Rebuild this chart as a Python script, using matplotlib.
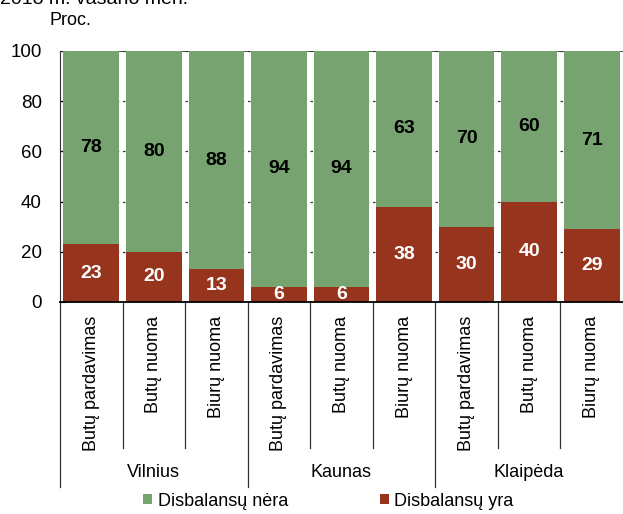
import matplotlib
matplotlib.use("Agg")
import matplotlib.pyplot as plt
import matplotlib.transforms as mtransforms
from matplotlib.patches import Patch

plt.rcParams['font.family'] = ['Liberation Sans', 'DejaVu Sans']

# data
cities = ["Vilnius", "Kaunas", "Klaipėda"]
segments = ["Butų pardavimas", "Butų nuoma", "Biurų nuoma"]
imbalance_yes = [23, 20, 13, 6, 6, 38, 30, 40, 29]
imbalance_no = [78, 80, 88, 94, 94, 63, 70, 60, 71]
series_names = ["Disbalansų nėra", "Disbalansų yra"]

GREEN = "#76A36F"
RED = "#96341E"

labels = segments * len(cities)
x = list(range(len(labels)))

fig = plt.figure(figsize=(6.23, 5.14), dpi=100)
ax = fig.add_axes([0.0963, 0.4125, 0.9037, 0.4883])

ax.bar(x, imbalance_yes, width=0.89, color=RED, zorder=2)
ax.bar(x, imbalance_no, width=0.89, bottom=imbalance_yes, color=GREEN, zorder=2)

for i in x:
    r = imbalance_yes[i]
    g = imbalance_no[i]
    ax.text(i, r / 2, str(r), ha='center', va='center', color='white',
            fontsize=14, fontweight='bold', zorder=3)
    top = min(r + g, 100)
    ax.text(i, (r + top) / 2, str(g), ha='center', va='center', color='black',
            fontsize=14, fontweight='bold', zorder=3)

ax.set_xlim(-0.5, len(labels) - 0.5)
ax.set_ylim(0, 100)
ax.set_yticks(range(0, 101, 20))
ax.yaxis.grid(True, linestyle=(0, (2, 3)), color='#333333', linewidth=0.9, zorder=0)
ax.axhline(100, color='#333333', linewidth=1.2, zorder=1)
ax.set_axisbelow(True)
for s in ['top', 'right']:
    ax.spines[s].set_visible(False)
ax.spines['left'].set_color('#333333')
ax.spines['bottom'].set_linewidth(1.3)
ax.tick_params(axis='y', direction='in', length=4, pad=13, labelsize=13.5)
ax.set_xticks([])

# category axis below the plot
trans = mtransforms.blended_transform_factory(ax.transData, ax.transAxes)
for k in range(len(labels)):
    low = -0.737 if k % 3 == 0 else -0.582
    ax.plot([k - 0.5, k - 0.5], [0, low], color='#333333', linewidth=0.9,
            transform=trans, clip_on=False)
for i, lab in enumerate(labels):
    ax.text(i, -0.056, lab, rotation=90, ha='center', va='top', fontsize=13,
            transform=trans)
for j, c in enumerate(cities):
    ax.text(3 * j + 1, -0.681, c, ha='center', va='center', fontsize=13,
            transform=trans)

handles = [Patch(facecolor=GREEN), Patch(facecolor=RED)]
fig.legend(handles, series_names, loc='center', bbox_to_anchor=(0.527, 0.025),
           ncol=2, frameon=False, fontsize=13, handlelength=0.5, handleheight=0.5,
           handletextpad=0.3, columnspacing=5.1)

fig.text(0.0, 0.992, "2018 m. vasario mėn.", fontsize=14, ha='left', va='baseline')
fig.text(0.08, 0.961, "Proc.", fontsize=13, ha='left', va='center')

fig.savefig("out.png", dpi=100)
